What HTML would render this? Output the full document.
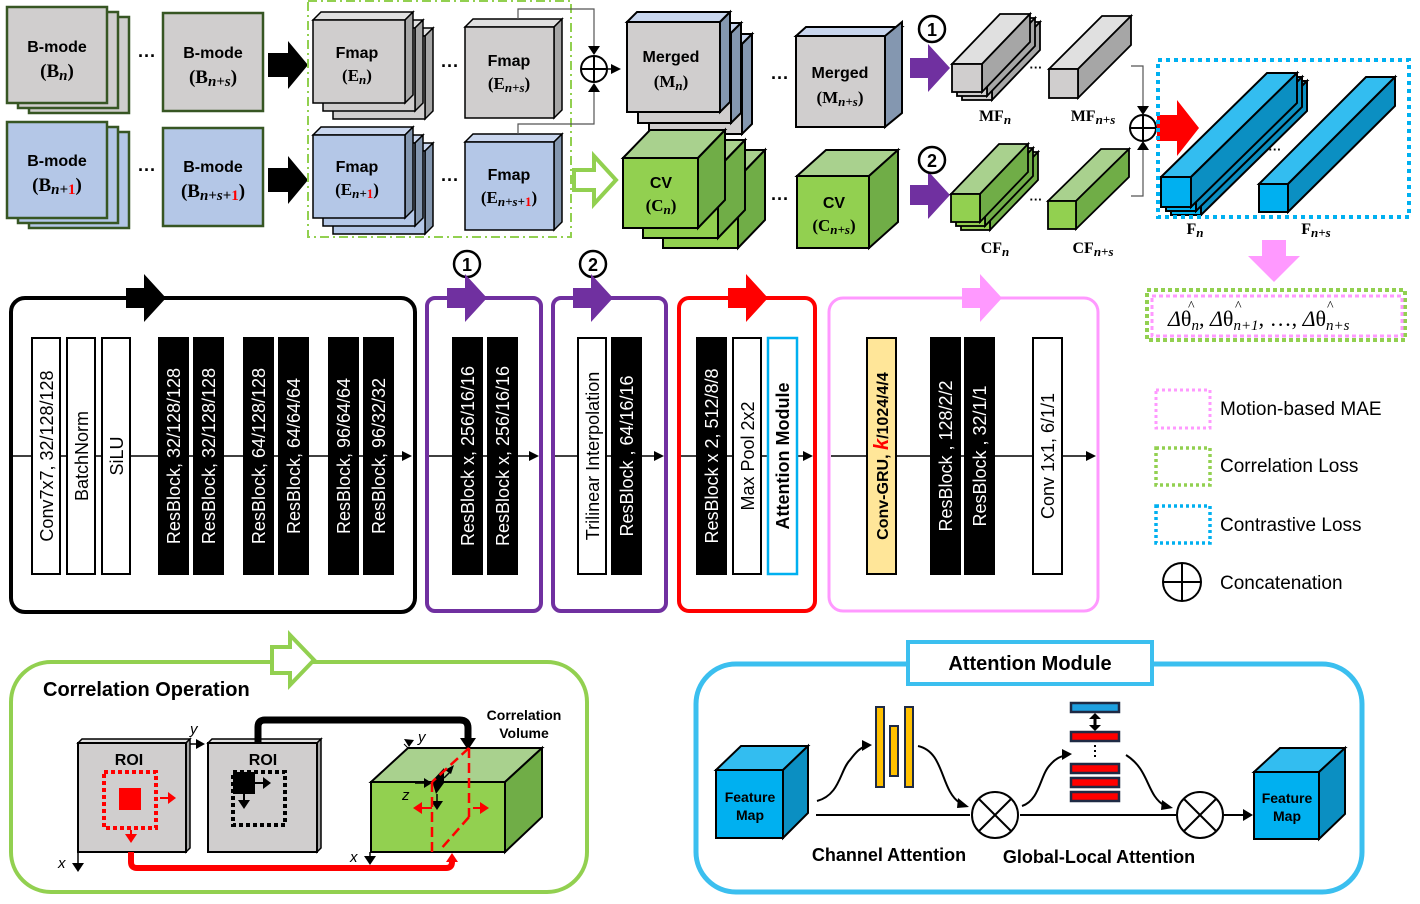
<!DOCTYPE html>
<html><head><meta charset="utf-8"><style>
body{margin:0;background:#fff}
svg{display:block;font-family:"Liberation Sans",sans-serif}
.b{font-weight:bold}
.s{font-family:"Liberation Serif",serif;font-weight:bold}
</style></head><body>
<svg width="1420" height="904" viewBox="0 0 1420 904" xmlns="http://www.w3.org/2000/svg">
<defs>
<marker id="ah" markerWidth="10" markerHeight="10" refX="8" refY="5" orient="auto" markerUnits="userSpaceOnUse"><path d="M0,0L10,5L0,10z" fill="#000"/></marker>
</defs>

<!-- ===== TOP ROW: B-mode ===== -->
<g stroke="#375623" stroke-width="2.5">
<rect x="29" y="17" width="100" height="96" fill="#d0cece"/>
<rect x="18" y="12" width="100" height="96" fill="#d0cece"/>
<rect x="7" y="7" width="100" height="96" fill="#d0cece"/>
<rect x="163" y="13" width="100" height="98" fill="#d0cece"/>
<rect x="29" y="132" width="100" height="96" fill="#b4c7e7"/>
<rect x="18" y="127" width="100" height="96" fill="#b4c7e7"/>
<rect x="7" y="122" width="100" height="96" fill="#b4c7e7"/>
<rect x="163" y="128" width="100" height="98" fill="#b4c7e7"/>
</g>
<g class="b" font-size="16" text-anchor="middle">
<text x="57" y="52">B-mode</text><text x="213" y="58">B-mode</text>
<text x="57" y="166">B-mode</text><text x="213" y="172">B-mode</text>
</g>
<g class="s" font-size="19" text-anchor="middle">
<text x="57" y="77">(B<tspan font-style="italic" font-size="15" dy="3">n</tspan><tspan dy="-3">)</tspan></text>
<text x="213" y="83">(B<tspan font-style="italic" font-size="15" dy="3">n+s</tspan><tspan dy="-3">)</tspan></text>
<text x="57" y="191">(B<tspan font-style="italic" font-size="15" dy="3">n+</tspan><tspan font-size="15" fill="#f00">1</tspan><tspan dy="-3">)</tspan></text>
<text x="213" y="197">(B<tspan font-style="italic" font-size="15" dy="3">n+s+</tspan><tspan font-size="15" fill="#f00">1</tspan><tspan dy="-3">)</tspan></text>
</g>
<g font-size="18" class="b" text-anchor="middle"><text x="147" y="62">···</text><text x="147" y="176">···</text>
<text x="450" y="72">···</text><text x="450" y="186">···</text><text x="780" y="84">···</text><text x="780" y="205">···</text></g>
<path d="M268,53h20v-12l20,24l-20,24v-12h-20z" fill="#000"/>
<path d="M268,168h20v-12l20,24l-20,24v-12h-20z" fill="#000"/>

<!-- Fmap stacks -->
<g stroke="#000" stroke-width="1.5">
<g transform="translate(20,16)"><polygon points="313,20 321,12 413,12 405,20" fill="#e0e0e0"/><polygon points="405,20 413,12 413,95 405,103" fill="#a6a6a6"/><rect x="313" y="20" width="92" height="83" fill="#d0cece"/></g>
<g transform="translate(10,8)"><polygon points="313,20 321,12 413,12 405,20" fill="#e0e0e0"/><polygon points="405,20 413,12 413,95 405,103" fill="#a6a6a6"/><rect x="313" y="20" width="92" height="83" fill="#d0cece"/></g>
<polygon points="313,20 321,12 413,12 405,20" fill="#e0e0e0"/><polygon points="405,20 413,12 413,95 405,103" fill="#a6a6a6"/><rect x="313" y="20" width="92" height="83" fill="#d0cece"/>
<polygon points="465,27 473,19 562,19 554,27" fill="#e0e0e0"/><polygon points="554,27 562,19 562,110 554,118" fill="#a6a6a6"/><rect x="465" y="27" width="89" height="91" fill="#d0cece"/>
<g transform="translate(20,16)"><polygon points="313,135 321,127 413,127 405,135" fill="#c9d6ee"/><polygon points="405,135 413,127 413,210 405,218" fill="#8497b0"/><rect x="313" y="135" width="92" height="83" fill="#b4c7e7"/></g>
<g transform="translate(10,8)"><polygon points="313,135 321,127 413,127 405,135" fill="#c9d6ee"/><polygon points="405,135 413,127 413,210 405,218" fill="#8497b0"/><rect x="313" y="135" width="92" height="83" fill="#b4c7e7"/></g>
<polygon points="313,135 321,127 413,127 405,135" fill="#c9d6ee"/><polygon points="405,135 413,127 413,210 405,218" fill="#8497b0"/><rect x="313" y="135" width="92" height="83" fill="#b4c7e7"/>
<polygon points="465,142 473,134 562,134 554,142" fill="#c9d6ee"/><polygon points="554,142 562,134 562,222 554,230" fill="#8497b0"/><rect x="465" y="142" width="89" height="88" fill="#b4c7e7"/>
</g>
<g class="b" font-size="16" text-anchor="middle">
<text x="357" y="58">Fmap</text><text x="509" y="66">Fmap</text><text x="357" y="172">Fmap</text><text x="509" y="180">Fmap</text>
</g>
<g class="s" font-size="17" text-anchor="middle">
<text x="357" y="81">(E<tspan font-style="italic" font-size="13" dy="3">n</tspan><tspan dy="-3">)</tspan></text>
<text x="509" y="89">(E<tspan font-style="italic" font-size="13" dy="3">n+s</tspan><tspan dy="-3">)</tspan></text>
<text x="357" y="195">(E<tspan font-style="italic" font-size="13" dy="3">n+</tspan><tspan font-size="13" fill="#f00">1</tspan><tspan dy="-3">)</tspan></text>
<text x="509" y="203">(E<tspan font-style="italic" font-size="13" dy="3">n+s+</tspan><tspan font-size="13" fill="#f00">1</tspan><tspan dy="-3">)</tspan></text>
</g>
<rect x="308" y="1" width="263" height="236" fill="none" stroke="#92d050" stroke-width="2" stroke-dasharray="9,4,2,4"/>
<path d="M518,19V9H594V52" fill="none" stroke="#555" stroke-width="1.2"/>
<path d="M518,134V124H594V86" fill="none" stroke="#555" stroke-width="1.2"/>
<path d="M588,46h12l-6,9z M588,92h12l-6,-9z" fill="#000"/>
<circle cx="594" cy="69" r="13" fill="#fff" stroke="#000" stroke-width="2"/>
<path d="M581,69h26M594,56v26" stroke="#000" stroke-width="2"/>
<path d="M607,69h12" stroke="#000" stroke-width="1.5" marker-end="url(#ah)"/>
<path d="M574,170h20v-14l22,24l-22,24v-14h-20z" fill="#fff" stroke="#92d050" stroke-width="4"/>

<!-- Merged -->
<g stroke="#000" stroke-width="2">
<g transform="translate(22,22)"><polygon points="627,22 637,12 730,12 720,22" fill="#c9d6ee"/><polygon points="720,22 730,12 730,102 720,112" fill="#8497b0"/><rect x="627" y="22" width="93" height="90" fill="#d0cece"/></g>
<g transform="translate(11,11)"><polygon points="627,22 637,12 730,12 720,22" fill="#c9d6ee"/><polygon points="720,22 730,12 730,102 720,112" fill="#8497b0"/><rect x="627" y="22" width="93" height="90" fill="#d0cece"/></g>
<polygon points="627,22 637,12 730,12 720,22" fill="#c9d6ee"/><polygon points="720,22 730,12 730,102 720,112" fill="#8497b0"/><rect x="627" y="22" width="93" height="90" fill="#d0cece"/>
<polygon points="796,36 806,27 902,27 892,36" fill="#c9d6ee"/><polygon points="885,36 902,22 902,113 885,127" fill="#8497b0"/><rect x="796" y="36" width="89" height="91" fill="#d0cece"/>
</g>
<g class="b" font-size="16" text-anchor="middle"><text x="671" y="62">Merged</text><text x="840" y="78">Merged</text></g>
<g class="s" font-size="17" text-anchor="middle">
<text x="671" y="87">(M<tspan font-style="italic" font-size="13" dy="3">n</tspan><tspan dy="-3">)</tspan></text>
<text x="840" y="103">(M<tspan font-style="italic" font-size="13" dy="3">n+s</tspan><tspan dy="-3">)</tspan></text>
</g>
<!-- CV -->
<g stroke="#000" stroke-width="2">
<g transform="translate(40,20)"><polygon points="623,158 650,130 725,130 698,158" fill="#a9d18e"/><polygon points="698,158 725,130 725,200 698,228" fill="#70ad47"/><rect x="623" y="158" width="75" height="70" fill="#92d050"/></g>
<g transform="translate(20,10)"><polygon points="623,158 650,130 725,130 698,158" fill="#a9d18e"/><polygon points="698,158 725,130 725,200 698,228" fill="#70ad47"/><rect x="623" y="158" width="75" height="70" fill="#92d050"/></g>
<polygon points="623,158 650,130 725,130 698,158" fill="#a9d18e"/><polygon points="698,158 725,130 725,200 698,228" fill="#70ad47"/><rect x="623" y="158" width="75" height="70" fill="#92d050"/>
<polygon points="797,176 826,150 898,150 869,176" fill="#a9d18e"/><polygon points="869,176 898,150 898,222 869,248" fill="#70ad47"/><rect x="797" y="176" width="72" height="72" fill="#92d050"/>
</g>
<g class="b" font-size="16" text-anchor="middle"><text x="661" y="188">CV</text><text x="834" y="208">CV</text></g>
<g class="s" font-size="17" text-anchor="middle">
<text x="661" y="211">(C<tspan font-style="italic" font-size="13" dy="3">n</tspan><tspan dy="-3">)</tspan></text>
<text x="834" y="231">(C<tspan font-style="italic" font-size="13" dy="3">n+s</tspan><tspan dy="-3">)</tspan></text>
</g>
<path d="M910,58h18v-14l22,24l-22,24v-14h-18z" fill="#7030a0"/>
<path d="M910,185h18v-14l22,24l-22,24v-14h-18z" fill="#7030a0"/>
<g class="b" font-size="18" text-anchor="middle">
<circle cx="932" cy="29" r="13" fill="#fff" stroke="#000" stroke-width="2.5"/><text x="932" y="36">1</text>
<circle cx="932" cy="160" r="13" fill="#fff" stroke="#000" stroke-width="2.5"/><text x="932" y="167">2</text>
<circle cx="467" cy="264" r="13" fill="#fff" stroke="#000" stroke-width="2.5"/><text x="467" y="271">1</text>
<circle cx="593" cy="264" r="13" fill="#fff" stroke="#000" stroke-width="2.5"/><text x="593" y="271">2</text>
</g>
<!-- MF / CF bars -->
<g stroke="#000" stroke-width="1.8">
<g transform="translate(10,8)"><polygon points="952,64 1000,14 1030,14 982,64" fill="#e0e0e0"/><polygon points="982,64 1030,14 1030,42 982,92" fill="#a6a6a6"/><rect x="952" y="64" width="30" height="28" fill="#d0cece"/></g>
<g transform="translate(5,4)"><polygon points="952,64 1000,14 1030,14 982,64" fill="#e0e0e0"/><polygon points="982,64 1030,14 1030,42 982,92" fill="#a6a6a6"/><rect x="952" y="64" width="30" height="28" fill="#d0cece"/></g>
<polygon points="952,64 1000,14 1030,14 982,64" fill="#e0e0e0"/><polygon points="982,64 1030,14 1030,42 982,92" fill="#a6a6a6"/><rect x="952" y="64" width="30" height="28" fill="#d0cece"/>
<polygon points="1049,69 1102,16 1131,16 1078,69" fill="#e0e0e0"/><polygon points="1078,69 1131,16 1131,45 1078,98" fill="#a6a6a6"/><rect x="1049" y="69" width="29" height="29" fill="#d0cece"/>
<g transform="translate(10,8)"><polygon points="951,194 999,144 1028,144 980,194" fill="#a9d18e"/><polygon points="980,194 1028,144 1028,172 980,222" fill="#70ad47"/><rect x="951" y="194" width="29" height="28" fill="#92d050"/></g>
<g transform="translate(5,4)"><polygon points="951,194 999,144 1028,144 980,194" fill="#a9d18e"/><polygon points="980,194 1028,144 1028,172 980,222" fill="#70ad47"/><rect x="951" y="194" width="29" height="28" fill="#92d050"/></g>
<polygon points="951,194 999,144 1028,144 980,194" fill="#a9d18e"/><polygon points="980,194 1028,144 1028,172 980,222" fill="#70ad47"/><rect x="951" y="194" width="29" height="28" fill="#92d050"/>
<polygon points="1048,201 1101,149 1129,149 1076,201" fill="#a9d18e"/><polygon points="1076,201 1129,149 1129,177 1076,229" fill="#70ad47"/><rect x="1048" y="201" width="28" height="28" fill="#92d050"/>
</g>
<g font-size="13" class="b" text-anchor="middle"><text x="1036" y="72">···</text><text x="1036" y="204">···</text><text x="1275" y="154">···</text></g>
<g class="s" font-size="16" text-anchor="middle">
<text x="995" y="121">MF<tspan font-style="italic" font-size="13" dy="3">n</tspan></text>
<text x="1093" y="121">MF<tspan font-style="italic" font-size="13" dy="3">n+s</tspan></text>
<text x="995" y="253">CF<tspan font-style="italic" font-size="13" dy="3">n</tspan></text>
<text x="1093" y="253">CF<tspan font-style="italic" font-size="13" dy="3">n+s</tspan></text>
<text x="1195" y="234">F<tspan font-style="italic" font-size="13" dy="3">n</tspan></text>
<text x="1316" y="234">F<tspan font-style="italic" font-size="13" dy="3">n+s</tspan></text>
</g>
<path d="M1131,66H1143V111 M1131,196H1143V145" fill="none" stroke="#555" stroke-width="1.2"/>
<path d="M1137,106h12l-6,9z M1137,150h12l-6,-9z" fill="#000"/>
<circle cx="1143" cy="128" r="13" fill="#fff" stroke="#000" stroke-width="2"/>
<path d="M1130,128h26M1143,115v26" stroke="#000" stroke-width="2"/>
<path d="M1157,115h20v-15l22,28l-22,28v-15h-20z" fill="#f00"/>
<g stroke="#000" stroke-width="2">
<g transform="translate(10,8)"><polygon points="1161,177 1267,73 1297,73 1191,177" fill="#33bdf0"/><polygon points="1191,177 1297,73 1297,103 1191,207" fill="#0b8fc2"/><rect x="1161" y="177" width="30" height="30" fill="#00b0f0"/></g>
<g transform="translate(5,4)"><polygon points="1161,177 1267,73 1297,73 1191,177" fill="#33bdf0"/><polygon points="1191,177 1297,73 1297,103 1191,207" fill="#0b8fc2"/><rect x="1161" y="177" width="30" height="30" fill="#00b0f0"/></g>
<polygon points="1161,177 1267,73 1297,73 1191,177" fill="#33bdf0"/><polygon points="1191,177 1297,73 1297,103 1191,207" fill="#0b8fc2"/><rect x="1161" y="177" width="30" height="30" fill="#00b0f0"/>
<polygon points="1259,184 1366,77 1395,77 1288,184" fill="#33bdf0"/><polygon points="1288,184 1395,77 1395,106 1288,212" fill="#0b8fc2"/><rect x="1259" y="184" width="29" height="28" fill="#00b0f0"/>
</g>
<rect x="1158" y="60" width="251" height="157" fill="none" stroke="#00b0f0" stroke-width="4" stroke-dasharray="4,4"/>
<path d="M1262,240h24v16h14l-26,26l-26,-26h14z" fill="#ff99ff"/>
<rect x="1147" y="290" width="258" height="50" fill="none" stroke="#92d050" stroke-width="4" stroke-dasharray="4,3"/>
<rect x="1152" y="296" width="250" height="40" fill="none" stroke="#ff99ff" stroke-width="3" stroke-dasharray="4,3"/>
<g font-family="Liberation Serif,serif" font-size="22">
<text x="1168" y="326"><tspan font-style="italic">Δ</tspan>θ<tspan font-size="15" dy="4" font-style="italic">n</tspan><tspan dy="-4">, </tspan><tspan font-style="italic">Δ</tspan>θ<tspan font-size="15" dy="4" font-style="italic">n+1</tspan><tspan dy="-4">, …,  </tspan><tspan font-style="italic">Δ</tspan>θ<tspan font-size="15" dy="4" font-style="italic">n+s</tspan></text>
<text x="1188" y="310" font-size="14">^</text><text x="1235" y="310" font-size="14">^</text><text x="1327" y="310" font-size="14">^</text>
</g>

<!-- ===== MIDDLE ROW ===== -->
<rect x="11" y="298" width="404" height="314" rx="14" fill="none" stroke="#000" stroke-width="4"/>
<rect x="427" y="298" width="114" height="313" rx="8" fill="none" stroke="#7030a0" stroke-width="4"/>
<rect x="553" y="298" width="113" height="313" rx="8" fill="none" stroke="#7030a0" stroke-width="4"/>
<rect x="679" y="298" width="136" height="313" rx="10" fill="none" stroke="#f00" stroke-width="4"/>
<rect x="829" y="298" width="269" height="313" rx="14" fill="none" stroke="#ff99ff" stroke-width="3"/>
<path d="M126,288h18v-14l22,24l-22,24v-14h-18z" fill="#000"/>
<path d="M447,288h18v-14l22,24l-22,24v-14h-18z" fill="#7030a0"/>
<path d="M573,288h18v-14l22,24l-22,24v-14h-18z" fill="#7030a0"/>
<path d="M728,288h18v-14l22,24l-22,24v-14h-18z" fill="#f00"/>
<path d="M962,288h18v-14l22,24l-22,24v-14h-18z" fill="#ff99ff"/>
<g stroke="#000" stroke-width="1.5">
<path d="M13,456H410" marker-end="url(#ah)"/>
<path d="M429,456H537" marker-end="url(#ah)"/>
<path d="M555,456H662" marker-end="url(#ah)"/>
<path d="M681,456H811" marker-end="url(#ah)"/>
<path d="M831,456H1094" marker-end="url(#ah)"/>
</g>
<g stroke="#000" stroke-width="2">
<rect x="32" y="338" width="28" height="236" fill="#fff"/>
<rect x="67" y="338" width="28" height="236" fill="#fff"/>
<rect x="102" y="338" width="28" height="236" fill="#fff"/>
<rect x="159" y="338" width="29" height="236" fill="#000"/>
<rect x="194" y="338" width="29" height="236" fill="#000"/>
<rect x="244" y="338" width="29" height="236" fill="#000"/>
<rect x="279" y="338" width="29" height="236" fill="#000"/>
<rect x="329" y="338" width="29" height="236" fill="#000"/>
<rect x="364" y="338" width="29" height="236" fill="#000"/>
<rect x="453" y="338" width="29" height="236" fill="#000"/>
<rect x="488" y="338" width="29" height="236" fill="#000"/>
<rect x="578" y="338" width="28" height="236" fill="#fff"/>
<rect x="612" y="338" width="29" height="236" fill="#000"/>
<rect x="697" y="338" width="29" height="236" fill="#000"/>
<rect x="733" y="338" width="28" height="236" fill="#fff"/>
<rect x="768" y="338" width="29" height="236" fill="#fff" stroke="#00b0f0" stroke-width="2.5"/>
<rect x="867" y="338" width="29" height="236" fill="#ffe699"/>
<rect x="931" y="338" width="29" height="236" fill="#000"/>
<rect x="965" y="338" width="29" height="236" fill="#000"/>
<rect x="1033" y="338" width="29" height="236" fill="#fff"/>
</g>
<g font-size="18" text-anchor="middle">
<text transform="translate(53,456) rotate(-90)">Conv7x7, 32/128/128</text>
<text transform="translate(88,456) rotate(-90)">BatchNorm</text>
<text transform="translate(123,456) rotate(-90)">SiLU</text>
<g fill="#fff">
<text transform="translate(180,456) rotate(-90)">ResBlock, 32/128/128</text>
<text transform="translate(215,456) rotate(-90)">ResBlock, 32/128/128</text>
<text transform="translate(265,456) rotate(-90)">ResBlock, 64/128/128</text>
<text transform="translate(300,456) rotate(-90)">ResBlock, 64/64/64</text>
<text transform="translate(350,456) rotate(-90)">ResBlock, 96/64/64</text>
<text transform="translate(385,456) rotate(-90)">ResBlock, 96/32/32</text>
<text transform="translate(474,456) rotate(-90)">ResBlock x, 256/16/16</text>
<text transform="translate(509,456) rotate(-90)">ResBlock x, 256/16/16</text>
<text transform="translate(633,456) rotate(-90)">ResBlock , 64/16/16</text>
<text transform="translate(718,456) rotate(-90)">ResBlock x 2, 512/8/8</text>
<text transform="translate(952,456) rotate(-90)">ResBlock , 128/2/2</text>
<text transform="translate(986,456) rotate(-90)">ResBlock , 32/1/1</text>
</g>
<text transform="translate(599,456) rotate(-90)">Trilinear Interpolation</text>
<text transform="translate(754,456) rotate(-90)">Max Pool 2x2</text>
<text transform="translate(789,456) rotate(-90)" class="b">Attention Module</text>
<text transform="translate(888,456) rotate(-90)" class="b" font-size="16">Conv-GRU, <tspan fill="#f00" font-style="italic" font-size="20">k</tspan>/1024/4/4</text>
<text transform="translate(1054,456) rotate(-90)">Conv 1x1, 6/1/1</text>
</g>
<rect x="1156" y="390" width="54" height="38" fill="none" stroke="#ff99ff" stroke-width="3" stroke-dasharray="3,3"/>
<rect x="1156" y="448" width="54" height="37" fill="none" stroke="#92d050" stroke-width="3.5" stroke-dasharray="3,3"/>
<rect x="1156" y="506" width="54" height="37" fill="none" stroke="#00b0f0" stroke-width="3.5" stroke-dasharray="3,3"/>
<circle cx="1182" cy="582" r="19" fill="#fff" stroke="#000" stroke-width="2"/>
<path d="M1163,582h38M1182,563v38" stroke="#000" stroke-width="2"/>
<g font-size="19"><text x="1220" y="415">Motion-based MAE</text><text x="1220" y="472">Correlation Loss</text><text x="1220" y="531">Contrastive Loss</text><text x="1220" y="589">Concatenation</text></g>

<!-- ===== BOTTOM LEFT ===== -->
<rect x="11" y="662" width="576" height="230" rx="40" fill="none" stroke="#92d050" stroke-width="4"/>
<path d="M272,647h18v-12l24,25l-24,25v-12h-18z" fill="#fff" stroke="#92d050" stroke-width="4"/>
<text x="43" y="696" class="b" font-size="20">Correlation Operation</text>
<g stroke="#000" stroke-width="1.5">
<polygon points="78,743 82,739 190,739 186,743" fill="#e0e0e0"/><polygon points="186,743 190,739 190,848 186,852" fill="#a6a6a6"/><rect x="78" y="743" width="108" height="109" fill="#d0cece" stroke-width="2"/>
<polygon points="208,743 212,739 321,739 317,743" fill="#e0e0e0"/><polygon points="317,743 321,739 321,848 317,852" fill="#a6a6a6"/><rect x="208" y="743" width="109" height="109" fill="#d0cece" stroke-width="2"/>
</g>
<g class="b" font-size="16" text-anchor="middle"><text x="129" y="765">ROI</text><text x="263" y="765">ROI</text></g>
<rect x="104" y="772" width="52" height="56" fill="none" stroke="#f00" stroke-width="4" stroke-dasharray="4,3"/>
<rect x="119" y="788" width="22" height="22" fill="#f00"/>
<path d="M160,798h12" stroke="#f00" stroke-width="2"/><path d="M168,792l8,6l-8,6z" fill="#f00"/>
<path d="M131,830v8" stroke="#f00" stroke-width="2"/><path d="M125,834l6,9l6,-9z" fill="#f00"/>
<rect x="233" y="772" width="52" height="53" fill="none" stroke="#000" stroke-width="4" stroke-dasharray="4,3"/>
<rect x="233" y="772" width="22" height="22" fill="#000"/>
<path d="M255,783h10" stroke="#000" stroke-width="2"/><path d="M263,777l8,6l-8,6z" fill="#000"/>
<path d="M244,794v8" stroke="#000" stroke-width="2"/><path d="M238,800l6,9l6,-9z" fill="#000"/>
<path d="M78,852v14" stroke="#000" stroke-width="1.5"/><path d="M72,863l6,9l6,-9z" fill="#000"/>
<text x="58" y="868" font-style="italic" font-size="15">x</text>
<path d="M190,744h8" stroke="#000" stroke-width="1.5"/><path d="M196,739l9,5l-9,5z" fill="#000"/>
<text x="190" y="734" font-style="italic" font-size="15">y</text>
<path d="M258,742V727Q258,720 265,720H460Q468,720 468,728V740" fill="none" stroke="#000" stroke-width="7"/>
<path d="M460,738l8,12l8,-12z" fill="#000"/>
<g stroke="#000" stroke-width="2">
<polygon points="371,782 408,748 542,748 505,782" fill="#a9d18e"/>
<polygon points="505,782 542,748 542,817 505,852" fill="#70ad47"/>
<rect x="371" y="782" width="134" height="70" fill="#92d050"/>
</g>
<path d="M370,852v8" stroke="#000" stroke-width="1.5"/><path d="M364,856l6,9l6,-9z" fill="#000"/>
<text x="350" y="862" font-style="italic" font-size="15">x</text>
<path d="M408,748l-4,-4" stroke="#000"/><path d="M404,739l10,1l-5,7z" fill="#000"/>
<text x="418" y="742" font-style="italic" font-size="15">y</text>
<path d="M415,783h12" stroke="#000" stroke-width="1.5"/><path d="M424,778l8,5l-8,5z" fill="#000"/>
<text x="402" y="800" font-style="italic" font-size="15">z</text>
<polygon points="432,781 444,768 444,783 436,794" fill="#000"/>
<path d="M437,794v10" stroke="#000" stroke-width="1.5"/><path d="M431,801l6,9l6,-9z" fill="#000"/>
<path d="M444,778l6,-6" stroke="#000" stroke-width="1.5"/><path d="M445,770l9,-5l-3,9z" fill="#000"/>
<g stroke="#f00" stroke-width="2.5" stroke-dasharray="10,5" fill="none">
<path d="M432,782V852"/><path d="M469,748V817"/><path d="M469,748L432,782"/><path d="M469,817L440,850"/>
</g>
<path d="M418,808h14M473,808h10" stroke="#f00" stroke-width="2"/>
<path d="M422,802l-9,6l9,6z M480,802l9,6l-9,6z" fill="#f00"/>
<text x="524" y="720" class="b" font-size="14" text-anchor="middle">Correlation</text>
<text x="524" y="738" class="b" font-size="14" text-anchor="middle">Volume</text>
<path d="M131,852V862Q131,868 137,868H446Q452,868 452,862V860" fill="none" stroke="#f00" stroke-width="6"/>
<path d="M446,862l6,-9l6,9z" fill="#f00"/>

<!-- ===== BOTTOM RIGHT ===== -->
<rect x="696" y="664" width="666" height="228" rx="40" fill="none" stroke="#3bbfef" stroke-width="5"/>
<rect x="908" y="642" width="244" height="42" fill="#fff" stroke="#3bbfef" stroke-width="4"/>
<text x="1030" y="670" class="b" font-size="20" text-anchor="middle">Attention Module</text>
<g stroke="#000" stroke-width="2">
<polygon points="716,770 741,746 808,746 783,770" fill="#33bdf0"/><polygon points="783,770 808,746 808,813 783,838" fill="#0b8fc2"/><rect x="716" y="770" width="67" height="68" fill="#00b0f0"/>
<polygon points="1254,772 1280,748 1345,748 1319,772" fill="#33bdf0"/><polygon points="1319,772 1345,748 1345,814 1319,839" fill="#0b8fc2"/><rect x="1254" y="772" width="65" height="67" fill="#00b0f0"/>
</g>
<g class="b" font-size="14" text-anchor="middle"><text x="750" y="802">Feature</text><text x="750" y="820">Map</text><text x="1287" y="803">Feature</text><text x="1287" y="821">Map</text></g>
<path d="M816,815H970 M1020,815H1176 M1224,815H1245" stroke="#000" stroke-width="2"/>
<path d="M1243,809l10,6l-10,6z" fill="#000"/>
<g stroke="#000" stroke-width="2" fill="#fff">
<circle cx="995" cy="815" r="23"/><path d="M979,799l32,32M1011,799l-32,32"/>
<circle cx="1200" cy="815" r="23"/><path d="M1184,799l32,32M1216,799l-32,32"/>
</g>
<g fill="none" stroke="#000" stroke-width="2">
<path d="M817,801C840,795 840,770 850,760C856,752 860,748 866,746"/>
<path d="M918,746C945,752 940,790 960,803"/>
<path d="M1022,806C1040,800 1040,775 1050,765C1056,758 1060,757 1066,755"/>
<path d="M1126,755C1150,770 1146,795 1165,806"/>
</g>
<path d="M862,740l10,5l-10,6z M958,798l11,9l-12,1z M1062,749l10,5l-10,6z M1162,800l11,8l-12,2z" fill="#000"/>
<g stroke="#1f2a44" stroke-width="2" fill="#ffc000">
<rect x="876" y="707" width="8" height="80"/><rect x="890" y="726" width="8" height="50"/><rect x="905" y="707" width="8" height="80"/>
</g>
<g stroke="#1f2a44" stroke-width="2.5" fill="#f00">
<rect x="1071" y="703" width="48" height="9" fill="#1ea0e0"/>
<rect x="1071" y="732" width="48" height="9"/>
<rect x="1071" y="764" width="48" height="9"/><rect x="1071" y="778" width="48" height="9"/><rect x="1071" y="792" width="48" height="9"/>
</g>
<path d="M1095,715v14" stroke="#000" stroke-width="3"/><path d="M1089,719l6,-6l6,6zM1089,725l6,6l6,-6z" fill="#000"/>
<path d="M1095,745v15" stroke="#000" stroke-width="2" stroke-dasharray="2,3"/>
<g class="b" font-size="18" text-anchor="middle"><text x="889" y="861">Channel Attention</text><text x="1099" y="863">Global-Local Attention</text></g>
</svg>
</body></html>
